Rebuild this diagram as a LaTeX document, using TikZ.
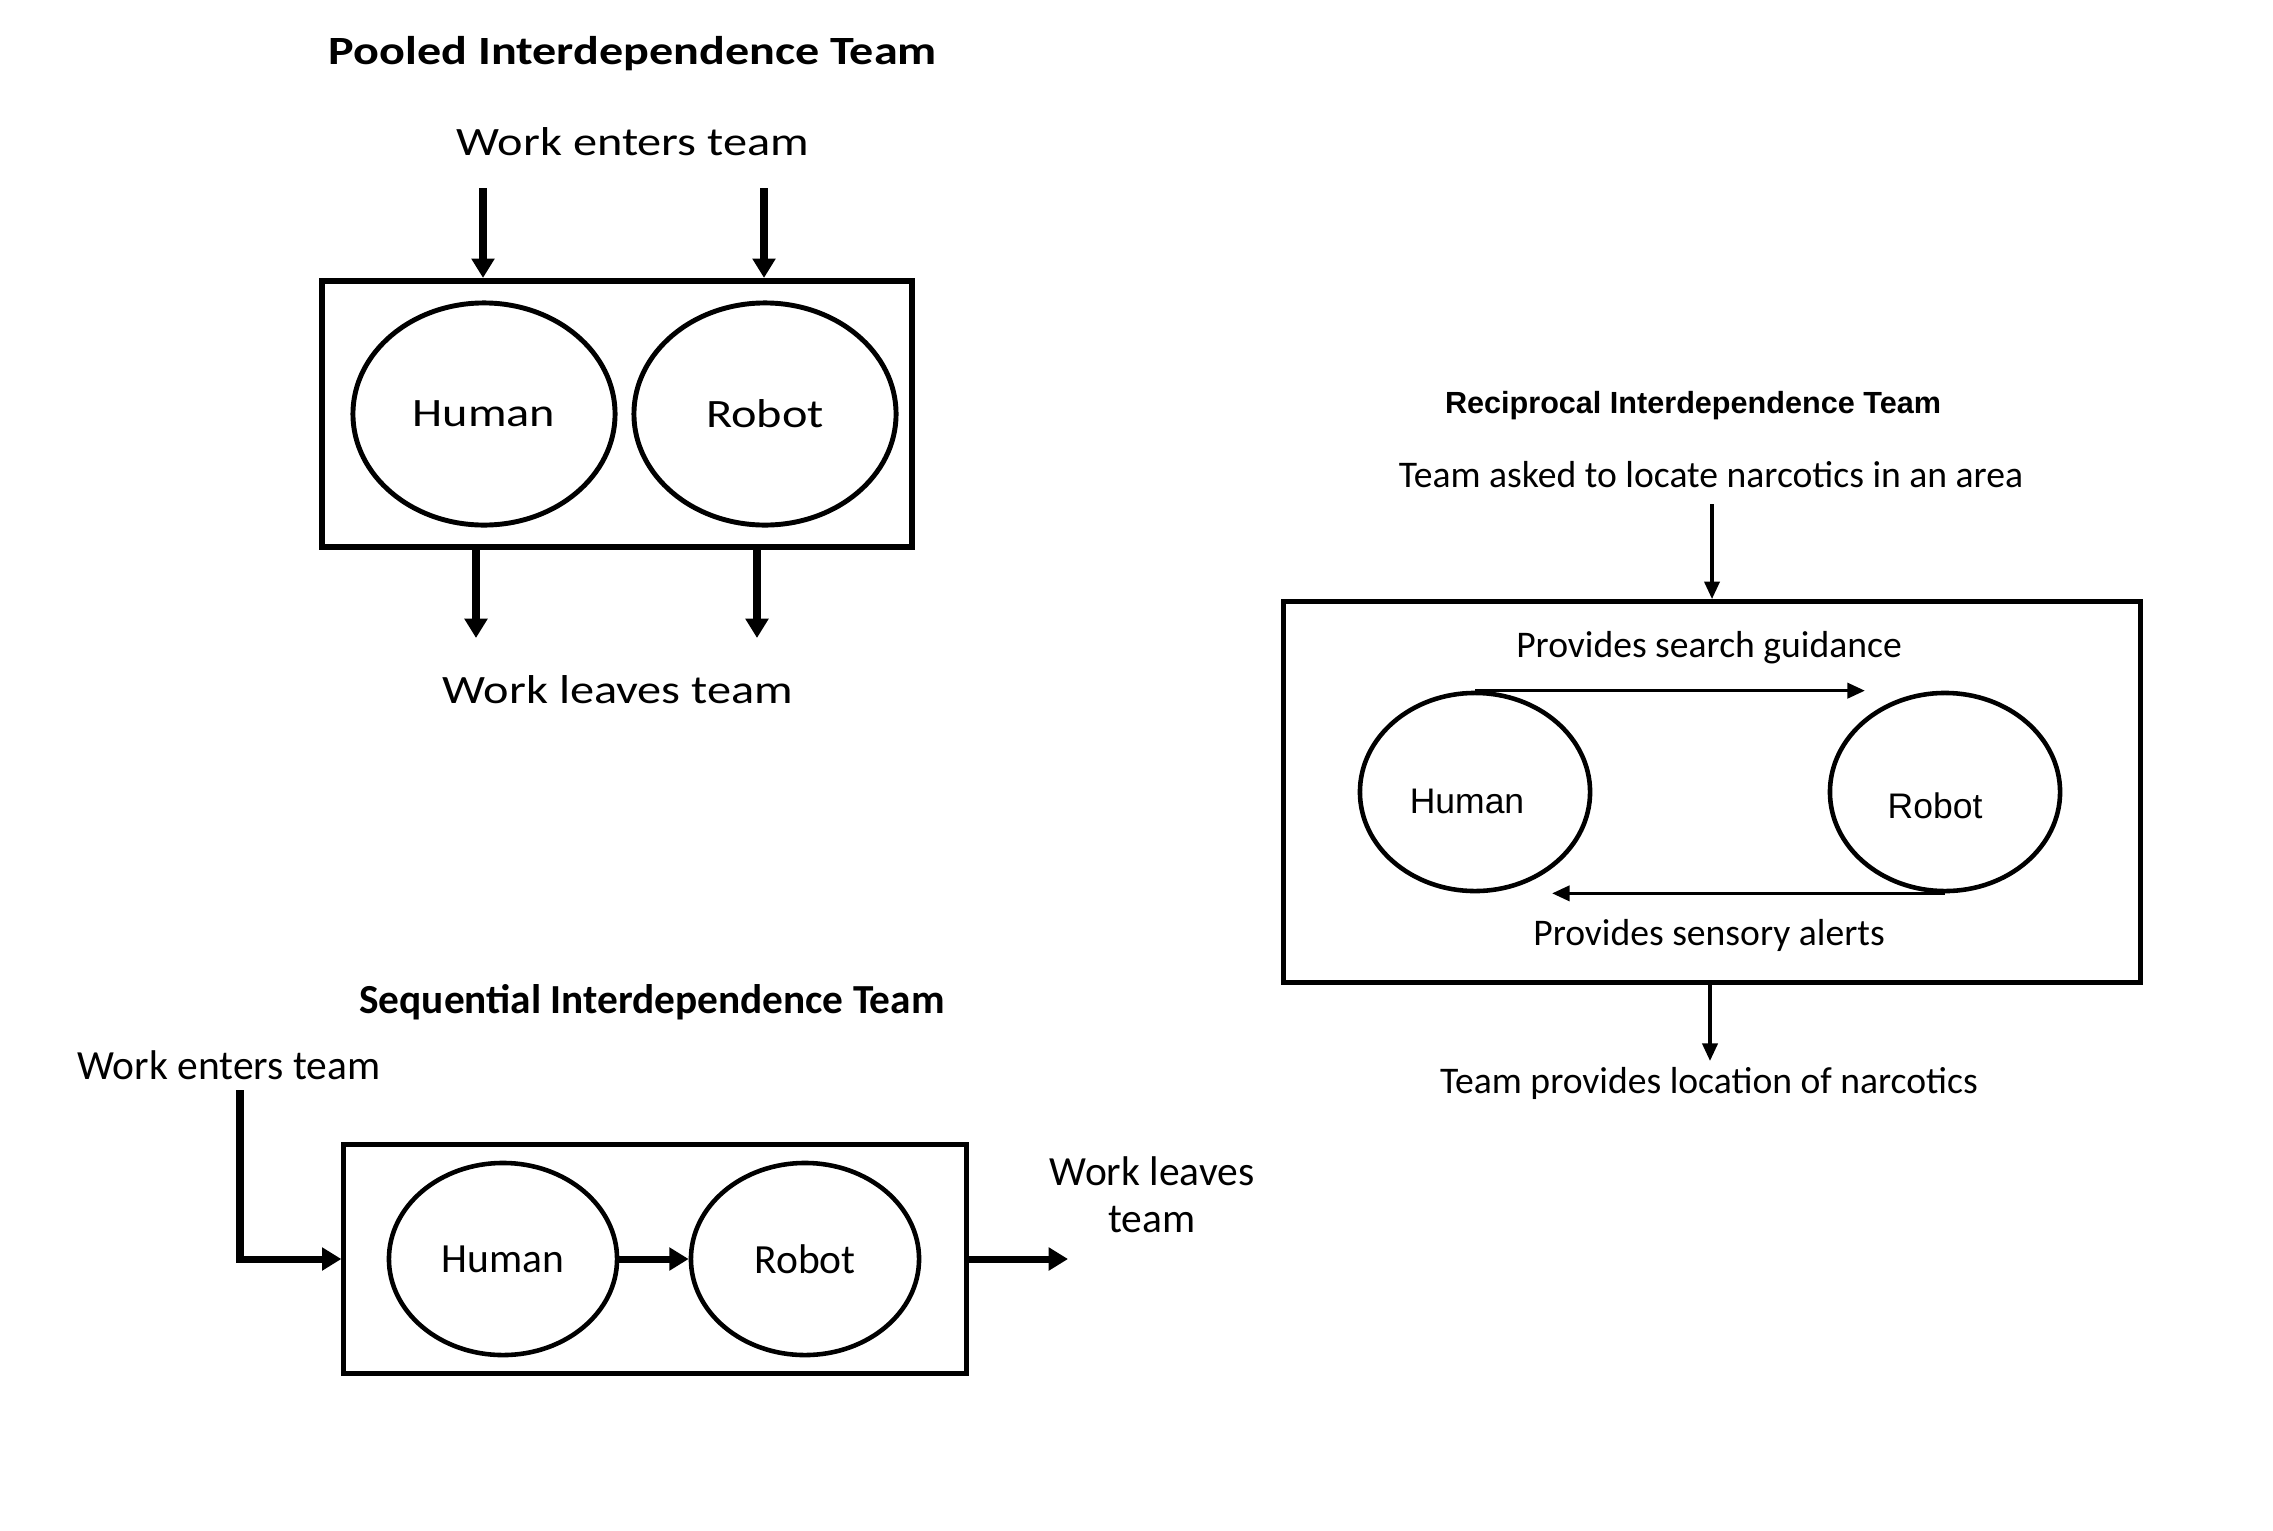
\documentclass[tikz,border=0pt]{standalone}
\usepackage{fontspec}
\setmainfont{Carlito}
\newfontfamily\widefont[FakeStretch=1.2]{Carlito}
\newfontfamily\arialfont{Liberation Sans}
\usetikzlibrary{positioning, shapes.geometric, arrows.meta}

\begin{document}
\begin{tikzpicture}[x=0.01cm, y=-0.01cm,
    team/.style={draw, line width=1.5pt, inner sep=0pt},
    member/.style={draw, ellipse, line width=1.3pt, inner sep=0pt},
    flow/.style={line width=2pt, -{Triangle[length=5.5pt, width=6.3pt]}},
    thinflow/.style={line width=1pt, -{Triangle[length=5pt, width=4.3pt]}},
    pooled/.style={font=\widefont\fontsize{11.45}{13.7}\selectfont},
    pooledhead/.style={font=\widefont\bfseries\fontsize{11.4}{13.5}\selectfont},
    seq/.style={font=\fontsize{11.8}{13.4}\selectfont},
    seqhead/.style={font=\bfseries\fontsize{11.75}{13.5}\selectfont},
    recip/.style={font=\fontsize{10.7}{12.8}\selectfont},
    reciphead/.style={font=\arialfont\bfseries\fontsize{8.7}{10}\selectfont},
    recipname/.style={font=\arialfont\fontsize{10.1}{12}\selectfont},
]
\useasboundingbox (0,0) rectangle (2273,1530);

% pooled
\node[pooledhead] (pooledtitle) at (633,54) {Pooled Interdependence Team};
\node[pooled] (pooledin) at (633,142) {Work enters team};
\node[team, line width=1.7pt, minimum width=5.9cm, minimum height=2.66cm] (pooledbox) at (617,414) {};
\node[member, pooled, line width=1.4pt, minimum width=2.62cm, minimum height=2.22cm] (phuman) at (484,414) {Human};
\node[member, pooled, line width=1.4pt, minimum width=2.62cm, minimum height=2.22cm] (probot) at (765,414) {Robot};
\node[pooled] (pooledout) at (618,690) {Work leaves team};
\coordinate (pin1) at (483,188);
\coordinate (pin2) at (764,188);
\coordinate (pout1) at (476,638);
\coordinate (pout2) at (757,638);
\draw[flow] (pin1) -- (pin1 |- pooledbox.north);
\draw[flow] (pin2) -- (pin2 |- pooledbox.north);
\draw[flow] (pooledbox.south -| pout1) -- (pout1);
\draw[flow] (pooledbox.south -| pout2) -- (pout2);

% reciprocal
\node[reciphead] (reciptitle) at (1693,406) {Reciprocal Interdependence Team};
\node[recip] (recipin) at (1711,475) {Team asked to locate narcotics in an area};
\node[team, line width=1.3pt, minimum width=8.56cm, minimum height=3.81cm] (recipbox) at (1712,792) {};
\node[member, minimum width=2.3cm, minimum height=1.98cm] (rhuman) at (1475,792) {};
\node[member, minimum width=2.3cm, minimum height=1.98cm] (rrobot) at (1945,792) {};
\node[recipname] (rhumanname) at ([shift={(-8,9)}]rhuman.center) {Human};
\node[recipname] (rrobotname) at ([shift={(-10,14)}]rrobot.center) {Robot};
\node[recip] (guidance) at (1709,648) {Provides search guidance};
\node[recip] (alerts) at (1709,935) {Provides sensory alerts};
\node[recip] (recipout) at (1709,1083) {Team provides location of narcotics};
\coordinate (rin) at (1712,504);
\coordinate (rout) at (1710,1061);
\draw[thinflow] (rin) -- (rin |- recipbox.north);
\draw[thinflow] (recipbox.south -| rout) -- (rout);
\draw[thinflow] (rhuman.north) -- ([xshift=-0.8cm]rrobot.north);
\draw[thinflow] (rrobot.south) -- ([xshift=0.77cm]rhuman.south);

% sequential
\node[seqhead] (seqtitle) at (652,1002) {Sequential Interdependence Team};
\node[seq, anchor=west, inner sep=0pt] (seqin) at (77,1065) {Work enters team};
\node[team, line width=1.4pt, minimum width=6.22cm, minimum height=2.29cm] (seqbox) at (655,1259) {};
\node[member, seq, minimum width=2.28cm, minimum height=1.92cm] (shuman) at (503,1259) {Human};
\node[member, seq, minimum width=2.28cm, minimum height=1.92cm] (srobot) at (805,1259) {Robot};
\node[seq, align=center] (seqout) at (1152,1195) {Work leaves\\team};
\coordinate (sbend) at (240,1259);
\coordinate (sout) at (1068,1259);
\draw[flow] ([yshift=-0.1cm]seqin.south -| sbend) -- (sbend) -- (seqbox.west);
\draw[flow] (shuman) -- (srobot);
\draw[flow] (seqbox.east) -- (sout);
\end{tikzpicture}
\end{document}
